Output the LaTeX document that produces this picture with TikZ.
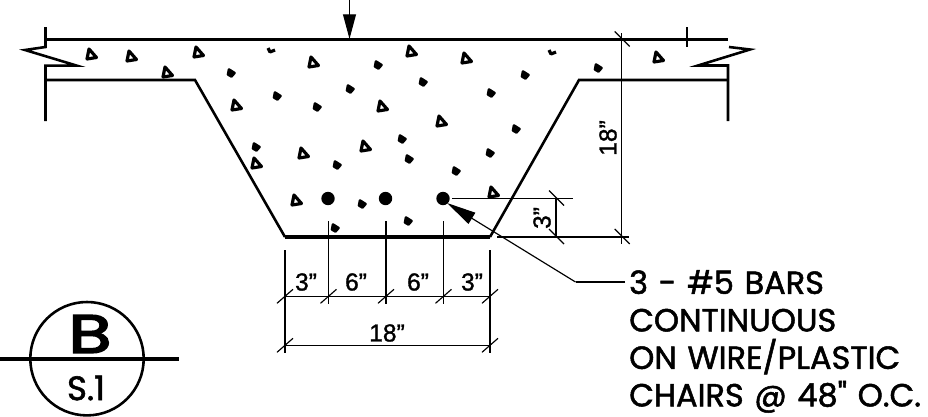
\documentclass[tikz,border=0pt]{standalone}
\usepackage{fontspec}
\setmainfont[FakeBold=1.2]{Liberation Sans}
\newfontfamily\handfont[FakeBold=1.6]{Poppins}
\newfontfamily\markfont[FakeBold=3]{Poppins}
\usetikzlibrary{arrows.meta}
\tikzset{
  heavy/.style = {line width = 2.6pt, line join = miter},
  medium/.style = {line width = 2.2pt},
  dimline/.style = {line width = 1pt},
  dimtext/.style = {inner sep = 0pt, font = \fontsize{21}{21}\selectfont},
  handtext/.style = {inner sep = 0pt, font = \handfont\fontsize{27.3}{32}\selectfont},
  hollowagg/.style = {line width = 2.7pt, line join = round},
  solidagg/.style = {fill = black, draw = black, line width = 2.2pt, line join = round},
}
\newcommand{\dimtick}[1]{\draw[dimline] #1 ++(-8,7) -- ++(16,-14);}
\newcommand{\dimtickb}[1]{\draw[dimline] #1 ++(-7,-8) -- ++(15,15);}
\begin{document}
\begin{tikzpicture}[x = 0.03cm, y = -0.03cm]
\useasboundingbox (0,0) rectangle (928,416);
% load arrow
\coordinate (loadtop) at (349.5,0);
\coordinate (loadend) at (349.5,39);
\draw[dimline, -{Stealth[length = 21, width = 11, inset = 0pt]}] (loadtop) -- (loadend);
% beam outline
\draw[heavy] (45.5,27) -- (45.5,39.5) -- (728,39.5);
\draw[medium] (45.5,39.5) -- (45.5,47) -- (25,50) -- (77,65.7) -- (45.5,65.7) -- (45.5,121);
\draw[medium] (45.5,80) -- (195,80) -- (285,237);
\draw[heavy] (285,237) -- (490,237);
\draw[medium] (490,237) -- (579,80) -- (728,80);
\draw[medium] (729,47) -- (750,49.5) -- (698,65.5) -- (728,65.5) -- (728,121);
\draw[medium] (687,27) -- (687,47);
% aggregate
\foreach \c in {(92,55),(132,57),(199,53),(168,73),(314,63),(412,52),(467,59),(659,58),
  (237,106),(383,107),(442,122),(366,147),(304,154),(257,164),(297,201),(494,193)} {
  \draw[hollowagg] \c ++(-3,-6) -- ++(7.5,8.5) -- ++(-9.5,1.5) -- cycle;
}
\foreach \c in {(231,73),(378,65),(423,82),(350,89),(277,96),(317,107),(402,139),(256,147),
  (409,159),(337,165),(456,171),(362,204),(525,75),(598,68),(491,93),(516,129),(490,153),
  (335,228),(408,221)} {
  \draw[solidagg] \c ++(-2,-3.5) -- ++(5.5,3.5) -- ++(-3,3.5) -- ++(-3.5,-2) -- cycle;
}
\foreach \c in {(271,50),(552,52)} {
  \draw[hollowagg] \c ++(-3,-2) -- ++(2,4) -- ++(5,-2);
}
% bars
\coordinate (bara) at (328,198.5);
\coordinate (barb) at (385.5,198.5);
\coordinate (barc) at (443,198.5);
\foreach \c in {(bara),(barb),(barc)} {
  \fill \c circle (6.7);
}
% depth dimensions
\draw[dimline] (621.7,33) -- (621.7,244);
\draw[dimline] (497,237) -- (629,237);
\draw[dimline] (452,198.5) -- (573,198.5);
\draw[dimline] (556,198.5) -- (556,237);
\dimtickb{(621.7,39.5)}
\dimtickb{(621.7,237)}
\dimtickb{(556,198.5)}
\dimtickb{(556,237)}
\node[dimtext, rotate = 90] (depthall) at (608,138) {18"};
\node[dimtext, rotate = 90] (depthcover) at (542,218) {3"};
% width dimensions
\draw[dimline] (285,250) -- (285,353);
\draw[dimline] (490,250) -- (490,353);
\foreach \x in {328.5,386,443.5} {
  \draw[dimline] (\x,221) -- (\x,304);
  \dimtick{(\x,296.3)}
}
\draw[dimline] (285,296.3) -- (490,296.3);
\draw[dimline] (285,345.3) -- (490,345.3);
\dimtick{(285,296.3)}
\dimtick{(490,296.3)}
\dimtick{(285,345.3)}
\dimtick{(490,345.3)}
\node[dimtext] (widtha) at (306,282) {3"};
\node[dimtext] (widthb) at (356,282) {6"};
\node[dimtext] (widthc) at (418,282) {6"};
\node[dimtext] (widthd) at (472,282) {3"};
\node[dimtext] (widthall) at (387,333) {18"};
% leader
\coordinate (elbow) at (575.5,282);
\node[handtext, anchor = north west, align = left, text width = 295] (barnote) at (629,270) {3 - \#5 BARS\\CONTINUOUS\\ON WIRE/PLASTIC\\CHAIRS @ 48" O.C.};
\draw[dimline] (625,282) -- (elbow);
\draw[dimline, -{Stealth[length = 25, width = 11, inset = 0pt]}] (elbow) -- (447,203);
% section mark
\coordinate (markc) at (87,358.7);
\draw[medium] (markc) circle (56.7);
\draw[heavy] (0,359) -- (179,359);
\node[inner sep = 0pt, font = \markfont\fontsize{46}{46}\selectfont] (markb) at (90,334) {\scalebox{1.3}[1]{B}};
\node[inner sep = 0pt, font = \handfont\fontsize{29}{29}\selectfont] (marks) at (86,388) {S.1};
\end{tikzpicture}
\end{document}
